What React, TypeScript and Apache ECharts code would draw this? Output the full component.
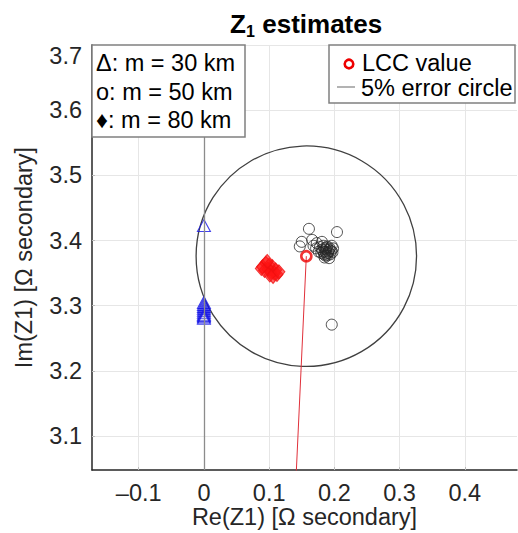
import React, { useEffect, useRef } from "react";
import * as echarts from "echarts";

// ---- data ----
const xTicks = [-0.1, 0, 0.1, 0.2, 0.3, 0.4];
const yTicks = [3.1, 3.2, 3.3, 3.4, 3.5, 3.6, 3.7];
const xRange = [-0.1716, 0.480];
const yRange = [3.048, 3.7];

// Δ: m = 30 km
const m30: number[][] = [
  [0, 3.423],
  [0, 3.305],
  [0, 3.302],
  [0, 3.299],
  [0, 3.296],
  [0, 3.293],
  [0, 3.290],
  [0, 3.287],
  [0, 3.285],
  [0, 3.283],
  [0, 3.281],
];

// o: m = 50 km
const m50: number[][] = [
  [0.161, 3.418],
  [0.204, 3.413],
  [0.150, 3.398],
  [0.147, 3.391],
  [0.166, 3.401],
  [0.173, 3.396],
  [0.181, 3.398],
  [0.196, 3.271],
  [0.183, 3.392],
  [0.188, 3.389],
  [0.192, 3.386],
  [0.186, 3.383],
  [0.190, 3.381],
  [0.195, 3.384],
  [0.181, 3.386],
  [0.184, 3.379],
  [0.189, 3.377],
  [0.194, 3.379],
  [0.198, 3.388],
  [0.178, 3.390],
  [0.185, 3.374],
  [0.192, 3.373],
  [0.176, 3.383],
  [0.172, 3.388],
  [0.168, 3.392],
  [0.196, 3.392],
  [0.187, 3.386],
  [0.183, 3.383],
  [0.191, 3.383],
  [0.188, 3.380],
  [0.186, 3.377],
  [0.193, 3.388],
  [0.180, 3.381],
  [0.189, 3.391],
  [0.197, 3.382],
  [0.185, 3.388],
];

// ♦: m = 80 km
const m80: number[][] = [
  [0.090, 3.360],
  [0.095, 3.365],
  [0.100, 3.362],
  [0.105, 3.360],
  [0.110, 3.355],
  [0.098, 3.356],
  [0.103, 3.352],
  [0.108, 3.350],
  [0.112, 3.348],
  [0.106, 3.345],
  [0.101, 3.347],
  [0.093, 3.354],
  [0.115, 3.352],
  [0.097, 3.368],
  [0.088, 3.357],
];

const lcc = [0.157, 3.376];
const errorPct = 0.05;
const origin = [0, 0];

const FONT = "'Liberation Sans', Arial, Helvetica, sans-serif";
const TXT = "#262626";
const FS = 23.5;

export default function App() {
  const ref = useRef<HTMLDivElement>(null);
  useEffect(() => {
    if (!ref.current) return;
    const chart = echarts.init(ref.current, undefined, { renderer: "svg" });
    const radius = errorPct * Math.hypot(lcc[0], lcc[1]);
    const option: any = {
      animation: false,
      backgroundColor: "#ffffff",
      textStyle: { fontFamily: FONT },
      grid: { left: 92, top: 45, width: 425, height: 425, outerBoundsMode: "none", containLabel: false },
      xAxis: {
        type: "value",
        min: xRange[0],
        max: xRange[1],
        name: "Re(Z1) [Ω secondary]",
        nameLocation: "middle",
        nameGap: 35,
        nameMoveOverlap: false,
        nameTextStyle: { fontSize: FS, color: TXT, fontFamily: FONT },
        axisLine: { show: true, onZero: false, lineStyle: { color: TXT, width: 1.5 } },
        axisTick: { show: true, inside: true, length: 3, customValues: xTicks, lineStyle: { color: "#bbbbbb" } },
        axisLabel: {
          customValues: xTicks,
          fontSize: FS,
          color: TXT,
          fontFamily: FONT,
          margin: 11,
          formatter: (v: number) => (v === 0 ? "0" : (v < 0 ? "–" : "") + Math.abs(v).toFixed(1)),
        },
        splitLine: { show: true, lineStyle: { color: "#e6e6e6", width: 1 } },
      },
      yAxis: {
        type: "value",
        min: yRange[0],
        max: yRange[1],
        name: "Im(Z1) [Ω secondary]",
        nameLocation: "middle",
        nameGap: 56,
        nameMoveOverlap: false,
        nameTextStyle: { fontSize: FS, color: TXT, fontFamily: FONT },
        axisLine: { show: true, onZero: false, lineStyle: { color: TXT, width: 1.5 } },
        axisTick: { show: true, inside: true, length: 3, customValues: yTicks, lineStyle: { color: "#bbbbbb" } },
        axisLabel: {
          customValues: yTicks,
          fontSize: FS,
          color: TXT,
          fontFamily: FONT,
          margin: 10,
          formatter: (v: number) =>
            Math.abs(v - 3.7) < 1e-9 ? "{low|" + v.toFixed(1) + "}" : "{n|" + v.toFixed(1) + "}",
          rich: {
            n: { fontSize: FS, color: TXT, fontFamily: FONT },
            low: { fontSize: FS, color: TXT, fontFamily: FONT, padding: [22, 0, 0, 0] },
          },
        },
        splitLine: { show: true, lineStyle: { color: "#e6e6e6", width: 1 } },
      },
      series: [
        {
          name: "zero",
          type: "line",
          data: [],
          z: 1,
          markLine: {
            silent: true,
            symbol: ["none", "none"],
            label: { show: false },
            lineStyle: { color: "#8c8c8c", width: 1.3, type: "solid" },
            data: [{ xAxis: 0 }],
          },
        },
        {
          name: "5% error circle",
          type: "custom",
          z: 2,
          silent: true,
          data: [[lcc[0], lcc[1], radius]],
          encode: { x: 0, y: 1 },
          renderItem: (params: any, api: any) => {
            const c = api.coord([api.value(0), api.value(1)]);
            const r = api.size([api.value(2), 0])[0];
            return {
              type: "circle",
              shape: { cx: c[0], cy: c[1], r },
              style: { fill: "none", stroke: "#404040", lineWidth: 1.3 },
            };
          },
        },
        {
          name: "LCC line",
          type: "line",
          z: 3,
          data: [origin, lcc],
          symbol: "none",
          clip: true,
          lineStyle: { color: "#e0303a", width: 1 },
        },
        {
          name: "m = 30 km",
          type: "scatter",
          z: 4,
          data: m30,
          symbol: "triangle",
          symbolSize: [13, 12],
          itemStyle: { color: "rgba(0,0,0,0)", borderColor: "#1414e6", borderWidth: 1.1 },
        },
        {
          name: "m = 80 km",
          type: "scatter",
          z: 4,
          data: m80,
          symbol: "diamond",
          symbolSize: [12, 14],
          itemStyle: { color: "rgba(255,20,20,0.8)", borderColor: "#f01010", borderWidth: 1 },
        },
        {
          name: "m = 50 km",
          type: "scatter",
          z: 5,
          data: m50,
          symbol: "circle",
          symbolSize: 11,
          itemStyle: { color: "rgba(0,0,0,0)", borderColor: "#262626", borderWidth: 1 },
        },
        {
          name: "LCC value",
          type: "scatter",
          z: 6,
          data: [lcc],
          symbol: "circle",
          symbolSize: 10,
          itemStyle: { color: "rgba(0,0,0,0)", borderColor: "#ee0000", borderWidth: 2.6 },
        },
      ],
      graphic: [
        // title
        { type: "text", x: 230, y: 24, z: 100, style: { text: "Z", font: `bold 26px ${FONT}`, fill: "#000", verticalAlign: "middle" } },
        { type: "text", x: 246, y: 31, z: 100, style: { text: "1", font: `bold 16px ${FONT}`, fill: "#000", verticalAlign: "middle" } },
        { type: "text", x: 255, y: 24, z: 100, style: { text: " estimates", font: `bold 26px ${FONT}`, fill: "#000", verticalAlign: "middle" } },
        // left legend box
        { type: "rect", z: 100, shape: { x: 92, y: 45, width: 153, height: 92 }, style: { fill: "#fff", stroke: "#808080", lineWidth: 1.5 } },
        { type: "text", z: 101, x: 96, y: 63, style: { text: "Δ: m = 30 km", font: `${FS}px ${FONT}`, fill: "#000", verticalAlign: "middle" } },
        { type: "text", z: 101, x: 96, y: 92, style: { text: "o: m = 50 km", font: `${FS}px ${FONT}`, fill: "#000", verticalAlign: "middle" } },
        { type: "text", z: 101, x: 96, y: 120, style: { text: "♦: m = 80 km", font: `${FS}px ${FONT}`, fill: "#000", verticalAlign: "middle" } },
        // right legend box
        { type: "rect", z: 100, shape: { x: 329, y: 45, width: 186, height: 58 }, style: { fill: "#fff", stroke: "#808080", lineWidth: 1.5 } },
        { type: "circle", z: 101, shape: { cx: 349, cy: 64, r: 4.3 }, style: { fill: "none", stroke: "#ee0000", lineWidth: 2.6 } },
        { type: "text", z: 101, x: 362, y: 63, style: { text: "LCC value", font: `${FS}px ${FONT}`, fill: "#000", verticalAlign: "middle" } },
        { type: "line", z: 101, shape: { x1: 337, y1: 87, x2: 355, y2: 87 }, style: { stroke: "#808080", lineWidth: 1.2 } },
        { type: "text", z: 101, x: 361, y: 88, style: { text: "5% error circle", font: `${FS}px ${FONT}`, fill: "#000", verticalAlign: "middle" } },
      ],
    };
    chart.setOption(option);
    return () => chart.dispose();
  }, []);
  return (
    <div
      ref={ref}
      style={{ position: "fixed", left: 0, top: 0, width: 518, height: 533, background: "#fff" }}
    />
  );
}
